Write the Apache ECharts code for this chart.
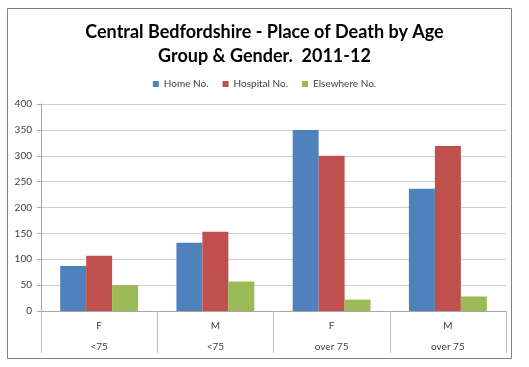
<!DOCTYPE html>
<html><head><meta charset="utf-8">
<script src="https://cdn.jsdelivr.net/npm/echarts@6/dist/echarts.min.js"></script>
<style>html,body{margin:0;padding:0;background:#fff}#c{width:529px;height:367px}</style>
</head><body><div id="c"></div>
<script>
const genders = ['F', 'M', 'F', 'M'];
const ageGroups = ['<75', '<75', 'over 75', 'over 75'];
const seriesNames = ['Home No.', 'Hospital No.', 'Elsewhere No.'];
const homeValues = [87, 132, 350, 236];
const hospitalValues = [107, 153, 300, 319];
const elsewhereValues = [50, 57, 22, 28];
const yTicks = [0, 50, 100, 150, 200, 250, 300, 350, 400];

const categories = genders.map((g, i) => g + '|' + ageGroups[i]);
const colors = ['#4F81BD', '#C0504D', '#9BBB59'];
const values = [homeValues, hospitalValues, elsewhereValues];

const chart = echarts.init(document.getElementById('c'));
chart.setOption({
  animation: false,
  color: colors,
  title: {
    text: 'Central Bedfordshire - Place of Death by Age\nGroup & Gender.  2011-12',
    left: 'center', top: 15,
    textStyle: { fontFamily: 'Lato', fontWeight: 'bold', fontSize: 18, lineHeight: 24, color: '#000' }
  },
  legend: {
    top: 74, left: 'center', itemWidth: 6, itemHeight: 6, itemGap: 14,
    icon: 'rect',
    textStyle: { fontFamily: 'Lato', fontSize: 10, color: '#404040' },
    data: seriesNames
  },
  graphic: [{
    type: 'rect', shape: { x: 7.5, y: 8.5, width: 504, height: 350 },
    style: { fill: 'none', stroke: '#808080', lineWidth: 1 }, silent: true
  }],
  grid: { left: 41, right: 23, top: 104, bottom: 56 },
  xAxis: {
    type: 'category', data: categories,
    axisLine: { lineStyle: { color: '#a6a6a6' } },
    axisTick: { show: true, length: 42, interval: 0, lineStyle: { color: '#bfbfbf' } },
    axisLabel: {
      margin: 4, interval: 0,
      formatter: v => { const p = v.split('|'); return '{a|' + p[0] + '}\n{a|' + p[1] + '}'; },
      rich: { a: { fontFamily: 'Lato', fontSize: 10, lineHeight: 21, color: '#404040' } }
    }
  },
  yAxis: {
    type: 'value', min: yTicks[0], max: yTicks[yTicks.length - 1], interval: yTicks[1] - yTicks[0],
    axisLine: { show: true, lineStyle: { color: '#a6a6a6' } },
    axisTick: { show: true, length: 4, lineStyle: { color: '#a6a6a6' } },
    splitLine: { lineStyle: { color: '#d0d0d0' } },
    axisLabel: { fontFamily: 'Lato', fontSize: 10, color: '#404040', margin: 9 }
  },
  series: seriesNames.map((n, i) => ({
    name: n, type: 'bar', data: values[i], barGap: '0%', barCategoryGap: '33%'
  }))
});
</script></body></html>
